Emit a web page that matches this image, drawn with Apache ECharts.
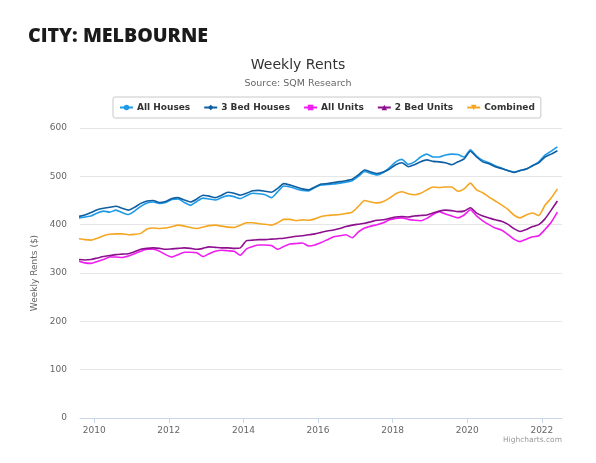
<!DOCTYPE html>
<html>
<head>
<meta charset="utf-8">
<script src="https://cdn.jsdelivr.net/npm/echarts@6/dist/echarts.min.js"></script>
<style>html,body{margin:0;padding:0;background:#fff}#c{width:596px;height:463px}</style>
</head>
<body>
<div id="c"></div>
<script>
// Bi-monthly sample dates (YYYY-MM)
const months = [
 '2009-08','2009-10','2009-12',
 '2010-02','2010-04','2010-06','2010-08','2010-10','2010-12',
 '2011-02','2011-04','2011-06','2011-08','2011-10','2011-12',
 '2012-02','2012-04','2012-06','2012-08','2012-10','2012-12',
 '2013-02','2013-04','2013-06','2013-08','2013-10','2013-12',
 '2014-02','2014-04','2014-06','2014-08','2014-10','2014-12',
 '2015-02','2015-04','2015-06','2015-08','2015-10','2015-12',
 '2016-02','2016-04','2016-06','2016-08','2016-10','2016-12',
 '2017-02','2017-04','2017-06','2017-08','2017-10','2017-12',
 '2018-02','2018-04','2018-06','2018-08','2018-10','2018-12',
 '2019-02','2019-04','2019-06','2019-08','2019-10','2019-12',
 '2020-02','2020-04','2020-06','2020-08','2020-10','2020-12',
 '2021-02','2021-04','2021-06','2021-08','2021-10','2021-12',
 '2022-02','2022-04','2022-06'
];
const allHouses = [414,416,418, 424,428,426,430,425,421, 428,438,445,447,444,446, 452,453,446,440,448,455, 453,451,456,460,458,454, 460,465,464,462,456,468, 480,478,474,471,470,477, 482,483,484,486,488,491, 500,510,506,503,508,518, 530,535,525,530,540,546, 540,540,544,546,545,540, 555,542,533,528,522,517, 512,509,512,515,522,530, 544,552,561];
const bed3Houses = [417,420,425, 431,434,436,438,434,430, 436,444,449,450,446,448, 454,456,451,447,453,461, 459,456,461,467,465,461, 465,470,471,469,467,475, 485,482,478,474,472,478, 484,485,487,489,491,494, 503,513,509,506,509,515, 524,528,520,524,530,534, 531,530,528,524,530,536, 552,540,530,526,520,516, 512,508,512,515,522,528, 540,546,553];
const allUnits = [325,321,320, 324,328,333,333,332,335, 340,345,349,349,345,338, 333,338,343,343,342,334, 340,345,347,346,345,337, 350,355,358,358,357,349, 355,360,361,362,356,358, 363,369,375,377,379,373, 385,393,397,400,404,410, 413,414,411,409,408,413, 421,427,422,418,414,420, 431,418,408,400,393,389, 380,370,365,370,375,377, 390,405,426];
const bed2Units = [328,327,328, 331,334,336,338,339,340, 344,349,351,352,351,349, 350,351,352,351,349,351, 354,353,352,352,351,352, 367,368,369,369,370,371, 372,374,376,377,379,381, 384,387,389,392,396,399, 401,403,406,409,410,413, 416,417,416,418,419,420, 424,428,430,429,427,428, 435,424,418,414,410,407, 401,392,386,390,396,400, 412,430,449];
const combined = [371,369,368, 372,377,380,381,381,379, 380,382,391,393,392,393, 396,399,397,394,392,395, 398,399,397,395,394,399, 404,404,402,401,399,404, 411,411,408,410,409,412, 417,419,420,421,423,426, 438,450,447,445,448,455, 464,468,464,462,465,472, 478,477,478,478,469,474, 486,472,466,457,449,441, 432,420,414,420,424,419, 440,455,474];
const yearTicks = [2010,2012,2014,2016,2018,2020,2022];

function toYear(s){const p=s.split('-');return +p[0]+(+p[1]-1)/12;}
function pairs(vals){return months.map((m,i)=>[toYear(m),vals[i]]);}

const FONT = '"DejaVu Sans", sans-serif';
const defs = [
  {name:'All Houses', data:allHouses, color:'#1e9ae6', symbol:'circle'},
  {name:'3 Bed Houses', data:bed3Houses, color:'#0f5fa3', symbol:'diamond'},
  {name:'All Units', data:allUnits, color:'#f01ef0', symbol:'rect'},
  {name:'2 Bed Units', data:bed2Units, color:'#8e0f8e', symbol:'triangle'},
  {name:'Combined', data:combined, color:'#f5a623', symbol:'path://M0,0 L10,0 L5,9 Z'}
];

const chart = echarts.init(document.getElementById('c'), null, {renderer:'canvas'});
chart.setOption({
  animation:false,
  backgroundColor:'#fff',
  title:[
    {text:'CITY: MELBOURNE', left:23, top:21, textStyle:{fontFamily:'"Open Sans", sans-serif', fontWeight:800, fontSize:19.6, color:'#1b1b1b'}},
    {text:'Weekly Rents', left:'center', top:53, textStyle:{fontFamily:FONT, fontWeight:'normal', fontSize:14, color:'#333'}},
    {text:'Source: SQM Research', left:'center', top:74, textStyle:{fontFamily:FONT, fontWeight:'normal', fontSize:9.5, color:'#666'}}
  ],
  legend:{
    top:97, left:113,
    borderColor:'#c8c8c8', borderWidth:1, borderRadius:2,
    padding:[6,6,6,6],
    itemWidth:13, itemHeight:7, itemGap:13,
    textStyle:{fontFamily:FONT, fontWeight:'bold', fontSize:9, color:'#333', padding:[0,0,0,-1]},
    data:defs.map(d=>d.name)
  },
  grid:{left:80, right:34, top:128, bottom:45, containLabel:false},
  xAxis:{
    type:'value', min:2009.62, max:2022.54,
    axisLine:{show:true, lineStyle:{color:'#ccd6eb', width:1}},
    axisTick:{show:true, customValues:yearTicks, length:5, lineStyle:{color:'#ccd6eb'}},
    axisLabel:{customValues:yearTicks, formatter:v=>String(Math.round(v)), color:'#666', fontFamily:FONT, fontSize:9, margin:8},
    splitLine:{show:false}
  },
  yAxis:{
    type:'value', min:0, max:600, interval:100,
    name:'Weekly Rents ($)', nameLocation:'middle', nameGap:37, nameRotate:90,
    nameTextStyle:{fontFamily:FONT, fontSize:9, color:'#666'},
    axisLine:{show:false}, axisTick:{show:false},
    axisLabel:{color:'#666', fontFamily:FONT, fontSize:9, margin:13},
    splitLine:{lineStyle:{color:'#e6e6e6', width:1}}
  },
  series:defs.map(d=>({
    name:d.name, type:'line', data:pairs(d.data),
    showSymbol:false, symbol:d.symbol, symbolSize:6,
    itemStyle:{color:d.color},
    lineStyle:{color:d.color, width:1.6},
    smooth:0.2
  })),
  graphic:[
    {type:'text', right:34, top:436, style:{text:'Highcharts.com', fontFamily:FONT, fontSize:7.5, fill:'#999'}}
  ]
});
</script>
</body>
</html>
